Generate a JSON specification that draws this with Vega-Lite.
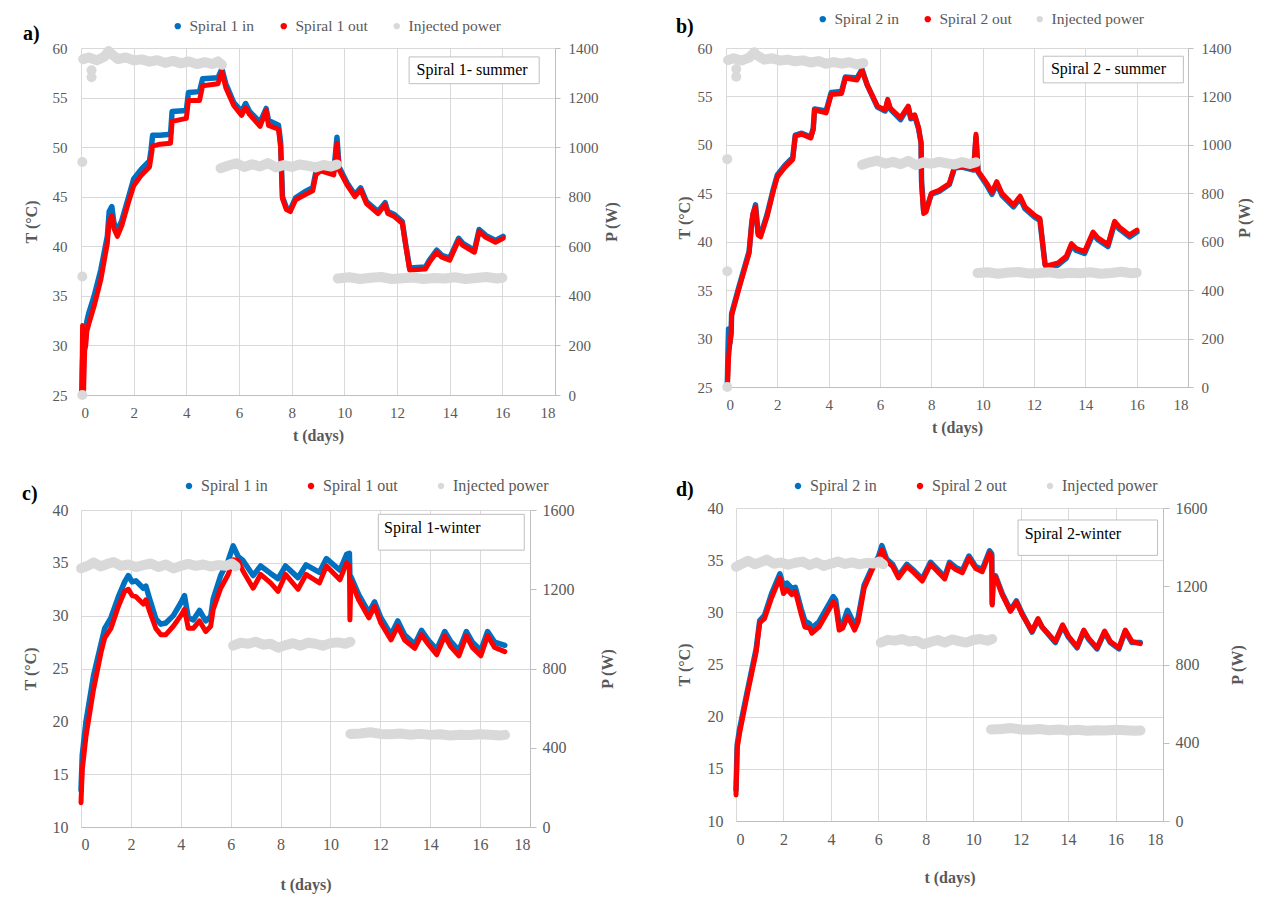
{
  "$schema": "https://vega.github.io/schema/vega-lite/v6.json",
  "background": "white",
  "padding": {"left": 22, "top": 11, "right": 5, "bottom": 5},
  "columns": 2,
  "align": "none",
  "spacing": {"row": 35, "column": 57},
  "resolve": {"scale": {"color": "independent"}, "legend": {"color": "independent"}},
  "datasets": {
    "a": [
      {"t":0.03,"in":25.0,"out":25.0},{"t":0.06,"in":28.5,"out":32.0},{"t":0.1,"in":30.5,"out":25.5},{"t":0.14,"in":29.8,"out":29.5},
      {"t":0.18,"in":30.8,"out":30.0},{"t":0.22,"in":32.4,"out":31.4},{"t":0.3,"in":33.3,"out":32.2},{"t":0.5,"in":35.0,"out":34.0},
      {"t":0.75,"in":37.6,"out":36.6},{"t":1.0,"in":41.0,"out":40.3},{"t":1.07,"in":43.5,"out":42.5},{"t":1.17,"in":44.0,"out":43.1},
      {"t":1.25,"in":42.4,"out":41.8},{"t":1.38,"in":41.5,"out":41.0},{"t":1.55,"in":42.6,"out":42.1},{"t":1.8,"in":44.9,"out":44.4},
      {"t":2.0,"in":46.8,"out":46.1},{"t":2.3,"in":47.8,"out":47.2},{"t":2.6,"in":48.6,"out":48.0},{"t":2.66,"in":49.7,"out":49.0},
      {"t":2.72,"in":51.2,"out":50.1},{"t":3.0,"in":51.2,"out":50.3},{"t":3.4,"in":51.3,"out":50.4},{"t":3.46,"in":53.6,"out":52.6},
      {"t":4.0,"in":53.7,"out":52.9},{"t":4.08,"in":55.5,"out":54.7},{"t":4.5,"in":55.6,"out":54.7},{"t":4.62,"in":56.9,"out":56.2},
      {"t":5.2,"in":57.0,"out":56.4},{"t":5.35,"in":57.9,"out":57.6},{"t":5.5,"in":56.4,"out":56.0},{"t":5.8,"in":54.5,"out":54.2},
      {"t":6.1,"in":53.6,"out":53.2},{"t":6.25,"in":54.4,"out":54.0},{"t":6.4,"in":53.6,"out":53.3},{"t":6.8,"in":52.5,"out":52.1},
      {"t":7.03,"in":53.9,"out":53.7},{"t":7.12,"in":52.7,"out":52.2},{"t":7.5,"in":52.2,"out":51.8},{"t":7.58,"in":50.5,"out":50.0},
      {"t":7.65,"in":45.0,"out":44.8},{"t":7.8,"in":43.9,"out":43.7},{"t":7.95,"in":43.7,"out":43.5},{"t":8.15,"in":44.9,"out":44.7},
      {"t":8.5,"in":45.5,"out":45.2},{"t":8.8,"in":45.9,"out":45.6},{"t":8.92,"in":47.5,"out":47.2},{"t":9.1,"in":47.8,"out":47.6},
      {"t":9.6,"in":47.5,"out":47.2},{"t":9.72,"in":51.0,"out":50.4},{"t":9.8,"in":48.0,"out":47.7},{"t":10.1,"in":46.4,"out":46.2},
      {"t":10.4,"in":45.2,"out":45.0},{"t":10.62,"in":45.9,"out":45.7},{"t":10.84,"in":44.5,"out":44.3},{"t":11.28,"in":43.5,"out":43.3},
      {"t":11.55,"in":44.4,"out":44.2},{"t":11.65,"in":43.5,"out":43.3},{"t":11.9,"in":43.2,"out":43.0},{"t":12.2,"in":42.5,"out":42.3},
      {"t":12.33,"in":40.2,"out":40.1},{"t":12.48,"in":37.8,"out":37.6},{"t":13.08,"in":37.9,"out":37.7},{"t":13.23,"in":38.6,"out":38.4},
      {"t":13.51,"in":39.6,"out":39.4},{"t":13.7,"in":39.1,"out":38.9},{"t":14.0,"in":38.8,"out":38.6},{"t":14.34,"in":40.8,"out":40.6},
      {"t":14.5,"in":40.3,"out":40.1},{"t":14.94,"in":39.6,"out":39.4},{"t":15.12,"in":41.7,"out":41.5},{"t":15.37,"in":41.1,"out":40.9},
      {"t":15.74,"in":40.6,"out":40.4},{"t":16.03,"in":41.0,"out":40.8}
    ],
    "pa": [
      {"t":0.05,"p":0,"g":"o1"},{"t":0.05,"p":478,"g":"o2"},{"t":0.05,"p":940,"g":"o3"},{"t":0.4,"p":1310,"g":"o4"},{"t":0.4,"p":1282,"g":"o5"},
      {"t":0.08,"p":1355,"g":"top"},{"t":0.3,"p":1362,"g":"top"},{"t":0.6,"p":1350,"g":"top"},{"t":0.9,"p":1366,"g":"top"},{"t":1.05,"p":1388,"g":"top"},
      {"t":1.2,"p":1372,"g":"top"},{"t":1.4,"p":1355,"g":"top"},{"t":1.7,"p":1362,"g":"top"},{"t":2.0,"p":1350,"g":"top"},{"t":2.3,"p":1354,"g":"top"},
      {"t":2.6,"p":1345,"g":"top"},{"t":2.9,"p":1351,"g":"top"},{"t":3.2,"p":1340,"g":"top"},{"t":3.5,"p":1348,"g":"top"},{"t":3.8,"p":1338,"g":"top"},
      {"t":4.1,"p":1346,"g":"top"},{"t":4.4,"p":1335,"g":"top"},{"t":4.7,"p":1343,"g":"top"},{"t":5.0,"p":1335,"g":"top"},{"t":5.2,"p":1346,"g":"top"},{"t":5.35,"p":1332,"g":"top"},
      {"t":5.3,"p":915,"g":"mid"},{"t":5.6,"p":926,"g":"mid"},{"t":5.9,"p":935,"g":"mid"},{"t":6.2,"p":920,"g":"mid"},{"t":6.5,"p":931,"g":"mid"},
      {"t":6.8,"p":922,"g":"mid"},{"t":7.1,"p":936,"g":"mid"},{"t":7.4,"p":918,"g":"mid"},{"t":7.7,"p":928,"g":"mid"},{"t":8.0,"p":920,"g":"mid"},
      {"t":8.3,"p":930,"g":"mid"},{"t":8.6,"p":925,"g":"mid"},{"t":8.9,"p":918,"g":"mid"},{"t":9.2,"p":928,"g":"mid"},{"t":9.5,"p":922,"g":"mid"},{"t":9.72,"p":930,"g":"mid"},
      {"t":9.75,"p":470,"g":"low"},{"t":10.2,"p":475,"g":"low"},{"t":10.6,"p":468,"g":"low"},{"t":11.0,"p":473,"g":"low"},{"t":11.4,"p":476,"g":"low"},
      {"t":11.8,"p":468,"g":"low"},{"t":12.2,"p":471,"g":"low"},{"t":12.6,"p":474,"g":"low"},{"t":13.0,"p":468,"g":"low"},{"t":13.4,"p":472,"g":"low"},
      {"t":13.8,"p":470,"g":"low"},{"t":14.2,"p":475,"g":"low"},{"t":14.6,"p":468,"g":"low"},{"t":15.0,"p":472,"g":"low"},{"t":15.4,"p":476,"g":"low"},
      {"t":15.8,"p":470,"g":"low"},{"t":16.0,"p":473,"g":"low"}
    ],
    "ba": [{"x1":12.46,"x2":17.4,"y1":59.1,"y2":56.4,"tx":12.74,"ty":57.75,"label":"Spiral 1- summer"}],
    "b": [
      {"t":0.05,"in":25.0,"out":25.0},{"t":0.08,"in":29.0,"out":26.5},{"t":0.1,"in":31.0,"out":28.0},{"t":0.15,"in":29.5,"out":29.5},
      {"t":0.2,"in":30.6,"out":30.5},{"t":0.22,"in":32.6,"out":32.4},{"t":0.5,"in":35.3,"out":35.1},{"t":0.9,"in":39.0,"out":38.8},
      {"t":1.0,"in":41.8,"out":41.9},{"t":1.05,"in":42.8,"out":42.9},{"t":1.15,"in":43.8,"out":43.6},{"t":1.25,"in":40.9,"out":40.7},
      {"t":1.35,"in":40.7,"out":40.5},{"t":1.6,"in":42.8,"out":42.6},{"t":1.85,"in":45.5,"out":45.3},{"t":2.0,"in":46.9,"out":46.7},
      {"t":2.3,"in":47.9,"out":47.7},{"t":2.6,"in":48.7,"out":48.5},{"t":2.7,"in":51.0,"out":50.9},{"t":2.95,"in":51.2,"out":51.1},
      {"t":3.3,"in":50.8,"out":50.7},{"t":3.4,"in":51.7,"out":51.6},{"t":3.45,"in":53.7,"out":53.6},{"t":3.9,"in":53.5,"out":53.3},
      {"t":4.1,"in":55.4,"out":55.2},{"t":4.5,"in":55.5,"out":55.3},{"t":4.65,"in":57.0,"out":56.9},{"t":5.1,"in":56.9,"out":56.7},
      {"t":5.3,"in":57.8,"out":57.7},{"t":5.5,"in":56.2,"out":56.2},{"t":5.9,"in":53.9,"out":54.0},{"t":6.2,"in":53.5,"out":53.6},
      {"t":6.3,"in":54.5,"out":54.7},{"t":6.4,"in":53.7,"out":53.8},{"t":6.8,"in":52.6,"out":52.8},{"t":7.1,"in":53.9,"out":54.0},
      {"t":7.2,"in":52.7,"out":52.8},{"t":7.35,"in":53.0,"out":53.1},{"t":7.5,"in":51.7,"out":51.8},{"t":7.6,"in":50.2,"out":50.2},
      {"t":7.62,"in":46.2,"out":46.0},{"t":7.7,"in":43.2,"out":42.9},{"t":7.8,"in":43.3,"out":43.1},{"t":8.0,"in":44.9,"out":45.0},
      {"t":8.3,"in":45.2,"out":45.3},{"t":8.7,"in":45.9,"out":46.0},{"t":8.9,"in":47.6,"out":47.7},{"t":9.2,"in":47.7,"out":47.8},
      {"t":9.65,"in":47.4,"out":47.5},{"t":9.74,"in":50.8,"out":51.1},{"t":9.82,"in":47.2,"out":47.3},{"t":10.17,"in":45.8,"out":46.0},
      {"t":10.36,"in":44.9,"out":45.1},{"t":10.55,"in":46.0,"out":46.2},{"t":10.75,"in":44.8,"out":45.0},{"t":11.2,"in":43.6,"out":43.8},
      {"t":11.46,"in":44.5,"out":44.7},{"t":11.65,"in":43.4,"out":43.6},{"t":12.04,"in":42.5,"out":42.7},{"t":12.23,"in":42.2,"out":42.4},
      {"t":12.43,"in":37.7,"out":37.6},{"t":12.49,"in":37.3,"out":37.5},{"t":12.94,"in":37.6,"out":37.8},{"t":13.26,"in":38.3,"out":38.5},
      {"t":13.46,"in":39.6,"out":39.8},{"t":13.65,"in":39.1,"out":39.3},{"t":13.97,"in":38.8,"out":39.0},{"t":14.3,"in":40.8,"out":41.0},
      {"t":14.49,"in":40.2,"out":40.4},{"t":14.88,"in":39.5,"out":39.7},{"t":15.14,"in":41.9,"out":42.1},{"t":15.33,"in":41.3,"out":41.5},
      {"t":15.72,"in":40.5,"out":40.7},{"t":16.01,"in":41.0,"out":41.2}
    ],
    "pb": [
      {"t":0.05,"p":0,"g":"o1"},{"t":0.05,"p":478,"g":"o2"},{"t":0.05,"p":941,"g":"o3"},{"t":0.4,"p":1313,"g":"o4"},{"t":0.4,"p":1281,"g":"o5"},
      {"t":0.08,"p":1350,"g":"top"},{"t":0.3,"p":1358,"g":"top"},{"t":0.6,"p":1348,"g":"top"},{"t":0.9,"p":1360,"g":"top"},{"t":1.1,"p":1382,"g":"top"},
      {"t":1.2,"p":1370,"g":"top"},{"t":1.5,"p":1352,"g":"top"},{"t":1.8,"p":1358,"g":"top"},{"t":2.1,"p":1348,"g":"top"},{"t":2.4,"p":1352,"g":"top"},
      {"t":2.7,"p":1345,"g":"top"},{"t":3.0,"p":1349,"g":"top"},{"t":3.3,"p":1340,"g":"top"},{"t":3.6,"p":1346,"g":"top"},{"t":3.9,"p":1335,"g":"top"},
      {"t":4.2,"p":1342,"g":"top"},{"t":4.5,"p":1335,"g":"top"},{"t":4.8,"p":1341,"g":"top"},{"t":5.1,"p":1332,"g":"top"},{"t":5.35,"p":1338,"g":"top"},
      {"t":5.3,"p":918,"g":"mid"},{"t":5.6,"p":928,"g":"mid"},{"t":5.9,"p":935,"g":"mid"},{"t":6.2,"p":922,"g":"mid"},{"t":6.5,"p":930,"g":"mid"},
      {"t":6.8,"p":920,"g":"mid"},{"t":7.1,"p":934,"g":"mid"},{"t":7.4,"p":916,"g":"mid"},{"t":7.7,"p":928,"g":"mid"},{"t":8.0,"p":922,"g":"mid"},
      {"t":8.3,"p":930,"g":"mid"},{"t":8.6,"p":924,"g":"mid"},{"t":8.9,"p":919,"g":"mid"},{"t":9.2,"p":929,"g":"mid"},{"t":9.5,"p":921,"g":"mid"},{"t":9.74,"p":928,"g":"mid"},
      {"t":9.8,"p":471,"g":"low"},{"t":10.2,"p":474,"g":"low"},{"t":10.6,"p":468,"g":"low"},{"t":11.0,"p":473,"g":"low"},{"t":11.4,"p":475,"g":"low"},
      {"t":11.8,"p":469,"g":"low"},{"t":12.2,"p":471,"g":"low"},{"t":12.6,"p":474,"g":"low"},{"t":13.0,"p":468,"g":"low"},{"t":13.4,"p":472,"g":"low"},
      {"t":13.8,"p":470,"g":"low"},{"t":14.2,"p":474,"g":"low"},{"t":14.6,"p":468,"g":"low"},{"t":15.0,"p":471,"g":"low"},{"t":15.4,"p":476,"g":"low"},
      {"t":15.8,"p":470,"g":"low"},{"t":16.0,"p":472,"g":"low"}
    ],
    "bb": [{"x1":12.36,"x2":17.82,"y1":59.15,"y2":56.4,"tx":12.66,"ty":57.8,"label":"Spiral 2 - summer"}],
    "c": [
      {"t":0.0,"in":13.5,"out":12.3},{"t":0.05,"in":16.8,"out":15.4},{"t":0.2,"in":20.0,"out":18.6},{"t":0.5,"in":24.3,"out":23.0},
      {"t":0.8,"in":27.3,"out":26.5},{"t":0.95,"in":28.8,"out":27.9},{"t":1.2,"in":29.8,"out":28.8},{"t":1.5,"in":31.8,"out":30.9},
      {"t":1.75,"in":33.2,"out":32.3},{"t":1.9,"in":33.8,"out":32.5},{"t":2.05,"in":33.2,"out":31.9},{"t":2.2,"in":33.3,"out":31.8},
      {"t":2.5,"in":32.6,"out":31.1},{"t":2.6,"in":32.8,"out":31.5},{"t":2.75,"in":31.6,"out":30.4},{"t":3.0,"in":29.7,"out":28.8},
      {"t":3.2,"in":29.2,"out":28.2},{"t":3.4,"in":29.3,"out":28.2},{"t":3.7,"in":30.0,"out":29.0},{"t":4.0,"in":31.2,"out":30.0},
      {"t":4.15,"in":31.9,"out":30.6},{"t":4.3,"in":29.8,"out":28.8},{"t":4.5,"in":29.6,"out":28.8},{"t":4.75,"in":30.5,"out":29.5},
      {"t":5.0,"in":29.5,"out":28.5},{"t":5.2,"in":29.9,"out":29.0},{"t":5.3,"in":31.6,"out":30.6},{"t":5.6,"in":33.8,"out":32.6},
      {"t":5.9,"in":35.2,"out":33.9},{"t":6.1,"in":36.6,"out":35.3},{"t":6.3,"in":35.6,"out":35.2},{"t":6.5,"in":35.2,"out":34.2},
      {"t":6.9,"in":33.8,"out":32.6},{"t":7.2,"in":34.7,"out":33.9},{"t":7.6,"in":34.0,"out":33.1},{"t":7.9,"in":33.5,"out":32.3},
      {"t":8.2,"in":34.7,"out":33.9},{"t":8.7,"in":33.6,"out":32.5},{"t":9.02,"in":34.8,"out":33.9},{"t":9.56,"in":34.1,"out":33.1},
      {"t":9.84,"in":35.4,"out":34.7},{"t":10.38,"in":34.3,"out":33.4},{"t":10.65,"in":35.8,"out":35.0},{"t":10.76,"in":35.9,"out":34.7},
      {"t":10.78,"in":33.7,"out":29.6},{"t":10.82,"in":33.7,"out":33.3},{"t":11.13,"in":32.0,"out":31.5},{"t":11.54,"in":30.3,"out":29.8},
      {"t":11.77,"in":31.3,"out":30.9},{"t":12.02,"in":29.8,"out":29.3},{"t":12.43,"in":28.2,"out":27.7},{"t":12.7,"in":29.5,"out":29.0},
      {"t":12.97,"in":28.2,"out":27.7},{"t":13.38,"in":27.3,"out":26.9},{"t":13.65,"in":28.6,"out":28.2},{"t":13.92,"in":27.7,"out":27.3},
      {"t":14.26,"in":26.8,"out":26.3},{"t":14.58,"in":28.5,"out":28.1},{"t":14.81,"in":27.6,"out":27.1},{"t":15.15,"in":26.7,"out":26.2},
      {"t":15.45,"in":28.5,"out":28.1},{"t":15.69,"in":27.5,"out":27.0},{"t":16.03,"in":26.7,"out":26.2},{"t":16.3,"in":28.5,"out":28.1},
      {"t":16.58,"in":27.5,"out":27.0},{"t":16.99,"in":27.2,"out":26.6}
    ],
    "pc": [
      {"t":0.0,"p":1305,"g":"top"},{"t":0.3,"p":1320,"g":"top"},{"t":0.5,"p":1335,"g":"top"},{"t":0.8,"p":1315,"g":"top"},{"t":1.1,"p":1330,"g":"top"},
      {"t":1.3,"p":1338,"g":"top"},{"t":1.6,"p":1318,"g":"top"},{"t":1.9,"p":1325,"g":"top"},{"t":2.2,"p":1312,"g":"top"},{"t":2.5,"p":1322,"g":"top"},
      {"t":2.8,"p":1330,"g":"top"},{"t":3.1,"p":1312,"g":"top"},{"t":3.4,"p":1325,"g":"top"},{"t":3.7,"p":1305,"g":"top"},{"t":4.0,"p":1318,"g":"top"},
      {"t":4.3,"p":1328,"g":"top"},{"t":4.6,"p":1318,"g":"top"},{"t":4.9,"p":1325,"g":"top"},{"t":5.2,"p":1315,"g":"top"},{"t":5.5,"p":1322,"g":"top"},
      {"t":5.8,"p":1318,"g":"top"},{"t":6.05,"p":1330,"g":"top"},{"t":6.2,"p":1315,"g":"top"},
      {"t":6.1,"p":915,"g":"mid"},{"t":6.4,"p":930,"g":"mid"},{"t":6.7,"p":925,"g":"mid"},{"t":7.0,"p":935,"g":"mid"},{"t":7.3,"p":920,"g":"mid"},
      {"t":7.6,"p":925,"g":"mid"},{"t":7.9,"p":905,"g":"mid"},{"t":8.2,"p":918,"g":"mid"},{"t":8.5,"p":928,"g":"mid"},{"t":8.8,"p":915,"g":"mid"},
      {"t":9.1,"p":930,"g":"mid"},{"t":9.4,"p":925,"g":"mid"},{"t":9.7,"p":915,"g":"mid"},{"t":10.0,"p":928,"g":"mid"},{"t":10.3,"p":932,"g":"mid"},
      {"t":10.6,"p":925,"g":"mid"},{"t":10.8,"p":935,"g":"mid"},
      {"t":10.8,"p":470,"g":"low"},{"t":11.2,"p":472,"g":"low"},{"t":11.6,"p":478,"g":"low"},{"t":12.0,"p":470,"g":"low"},{"t":12.4,"p":468,"g":"low"},
      {"t":12.8,"p":472,"g":"low"},{"t":13.2,"p":466,"g":"low"},{"t":13.6,"p":470,"g":"low"},{"t":14.0,"p":465,"g":"low"},{"t":14.4,"p":468,"g":"low"},
      {"t":14.8,"p":462,"g":"low"},{"t":15.2,"p":466,"g":"low"},{"t":15.6,"p":464,"g":"low"},{"t":16.0,"p":468,"g":"low"},{"t":16.4,"p":466,"g":"low"},
      {"t":16.8,"p":462,"g":"low"},{"t":17.0,"p":465,"g":"low"}
    ],
    "bc": [{"x1":11.92,"x2":17.77,"y1":39.59,"y2":36.2,"tx":12.15,"ty":38.33,"label":"Spiral 1-winter"}],
    "d": [
      {"t":0.0,"in":13.0,"out":12.5},{"t":0.05,"in":17.3,"out":17.0},{"t":0.15,"in":18.8,"out":18.4},{"t":0.5,"in":22.7,"out":22.4},
      {"t":0.85,"in":26.5,"out":26.2},{"t":1.0,"in":29.2,"out":29.0},{"t":1.2,"in":29.7,"out":29.4},{"t":1.5,"in":31.8,"out":31.4},
      {"t":1.85,"in":33.7,"out":33.3},{"t":2.0,"in":32.5,"out":31.8},{"t":2.15,"in":32.8,"out":32.2},{"t":2.35,"in":32.3,"out":31.7},
      {"t":2.5,"in":32.4,"out":32.0},{"t":2.75,"in":30.3,"out":29.8},{"t":2.9,"in":29.2,"out":28.6},{"t":3.1,"in":28.9,"out":28.5},
      {"t":3.2,"in":28.5,"out":28.0},{"t":3.5,"in":29.1,"out":28.6},{"t":3.8,"in":30.3,"out":29.8},{"t":4.1,"in":31.5,"out":31.0},
      {"t":4.2,"in":31.2,"out":30.7},{"t":4.35,"in":28.8,"out":28.3},{"t":4.5,"in":28.9,"out":28.5},{"t":4.7,"in":30.2,"out":29.6},
      {"t":4.85,"in":29.5,"out":29.0},{"t":5.0,"in":28.7,"out":28.3},{"t":5.15,"in":29.5,"out":29.1},{"t":5.4,"in":32.6,"out":32.3},
      {"t":5.8,"in":34.6,"out":34.4},{"t":6.0,"in":35.3,"out":35.0},{"t":6.15,"in":36.4,"out":36.0},{"t":6.35,"in":35.1,"out":34.9},
      {"t":6.6,"in":34.6,"out":34.4},{"t":6.85,"in":33.5,"out":33.3},{"t":7.2,"in":34.6,"out":34.4},{"t":7.5,"in":34.0,"out":33.8},
      {"t":7.85,"in":33.2,"out":33.0},{"t":8.2,"in":34.8,"out":34.6},{"t":8.8,"in":33.4,"out":33.2},{"t":9.0,"in":34.8,"out":34.6},
      {"t":9.26,"in":34.3,"out":34.1},{"t":9.54,"in":34.0,"out":33.8},{"t":9.82,"in":35.4,"out":35.2},{"t":10.1,"in":34.4,"out":34.2},
      {"t":10.38,"in":34.1,"out":33.9},{"t":10.69,"in":35.9,"out":35.7},{"t":10.78,"in":35.6,"out":35.4},{"t":10.8,"in":30.9,"out":30.7},
      {"t":10.85,"in":33.5,"out":33.4},{"t":10.94,"in":33.5,"out":33.4},{"t":11.22,"in":31.8,"out":31.7},{"t":11.57,"in":30.2,"out":30.1},
      {"t":11.82,"in":31.1,"out":31.0},{"t":12.06,"in":29.9,"out":29.8},{"t":12.48,"in":28.1,"out":28.2},{"t":12.73,"in":29.3,"out":29.4},
      {"t":12.9,"in":28.6,"out":28.6},{"t":13.46,"in":27.1,"out":27.2},{"t":13.77,"in":28.7,"out":28.8},{"t":14.02,"in":27.6,"out":27.7},
      {"t":14.38,"in":26.6,"out":26.7},{"t":14.66,"in":28.2,"out":28.3},{"t":14.87,"in":27.4,"out":27.5},{"t":15.22,"in":26.5,"out":26.6},
      {"t":15.54,"in":28.1,"out":28.2},{"t":15.78,"in":27.1,"out":27.2},{"t":16.14,"in":26.5,"out":26.6},{"t":16.41,"in":28.2,"out":28.3},
      {"t":16.69,"in":27.1,"out":27.2},{"t":17.04,"in":27.1,"out":27.0}
    ],
    "pd": [
      {"t":0.0,"p":1300,"g":"top"},{"t":0.3,"p":1318,"g":"top"},{"t":0.5,"p":1330,"g":"top"},{"t":0.8,"p":1312,"g":"top"},{"t":1.1,"p":1326,"g":"top"},
      {"t":1.3,"p":1336,"g":"top"},{"t":1.6,"p":1315,"g":"top"},{"t":1.9,"p":1322,"g":"top"},{"t":2.2,"p":1310,"g":"top"},{"t":2.5,"p":1320,"g":"top"},
      {"t":2.8,"p":1326,"g":"top"},{"t":3.1,"p":1308,"g":"top"},{"t":3.4,"p":1322,"g":"top"},{"t":3.7,"p":1304,"g":"top"},{"t":4.0,"p":1316,"g":"top"},
      {"t":4.3,"p":1326,"g":"top"},{"t":4.6,"p":1314,"g":"top"},{"t":4.9,"p":1322,"g":"top"},{"t":5.2,"p":1312,"g":"top"},{"t":5.5,"p":1320,"g":"top"},
      {"t":5.8,"p":1316,"g":"top"},{"t":6.05,"p":1326,"g":"top"},{"t":6.2,"p":1312,"g":"top"},
      {"t":6.1,"p":912,"g":"mid"},{"t":6.4,"p":926,"g":"mid"},{"t":6.7,"p":922,"g":"mid"},{"t":7.0,"p":930,"g":"mid"},{"t":7.3,"p":918,"g":"mid"},
      {"t":7.6,"p":922,"g":"mid"},{"t":7.9,"p":904,"g":"mid"},{"t":8.2,"p":915,"g":"mid"},{"t":8.5,"p":925,"g":"mid"},{"t":8.8,"p":912,"g":"mid"},
      {"t":9.1,"p":928,"g":"mid"},{"t":9.4,"p":920,"g":"mid"},{"t":9.7,"p":912,"g":"mid"},{"t":10.0,"p":925,"g":"mid"},{"t":10.3,"p":930,"g":"mid"},
      {"t":10.6,"p":922,"g":"mid"},{"t":10.8,"p":930,"g":"mid"},
      {"t":10.75,"p":468,"g":"low"},{"t":11.2,"p":470,"g":"low"},{"t":11.6,"p":475,"g":"low"},{"t":12.0,"p":468,"g":"low"},{"t":12.4,"p":466,"g":"low"},
      {"t":12.8,"p":470,"g":"low"},{"t":13.2,"p":464,"g":"low"},{"t":13.6,"p":468,"g":"low"},{"t":14.0,"p":463,"g":"low"},{"t":14.4,"p":466,"g":"low"},
      {"t":14.8,"p":461,"g":"low"},{"t":15.2,"p":464,"g":"low"},{"t":15.6,"p":463,"g":"low"},{"t":16.0,"p":466,"g":"low"},{"t":16.4,"p":464,"g":"low"},
      {"t":16.8,"p":461,"g":"low"},{"t":17.05,"p":463,"g":"low"}
    ],
    "bd": [{"x1":11.89,"x2":17.77,"y1":38.85,"y2":35.46,"tx":12.17,"ty":37.54,"label":"Spiral 2-winter"}]
  },
  "concat": [
    {
      "width": 474, "height": 347,
      "title": {"text": "a)", "offset": -33},
      "resolve": {"scale": {"y": "independent"}},
      "layer": [
        {"layer": [
          {"data": {"name": "a"}, "mark": {"type": "line", "strokeWidth": 5.5, "strokeJoin": "round", "strokeCap": "round"},
           "encoding": {
             "x": {"field": "t", "type": "quantitative", "scale": {"domain": [0, 18], "nice": false},
                   "axis": {"title": "t (days)", "values": [0,2,4,6,8,10,12,14,16,18], "grid": true, "ticks": false, "tickSize": 0, "domain": true, "labelPadding": 10, "titlePadding": 7, "labelFontSize": 15, "titleFontSize": 16, "labelFont": "Liberation Serif"}},
             "y": {"field": "in", "type": "quantitative", "scale": {"domain": [25, 60], "nice": false},
                   "axis": {"title": "T (°C)", "values": [25,30,35,40,45,50,55,60], "grid": true, "ticks": false, "tickSize": 0, "domain": false, "labelPadding": 14, "titlePadding": 13, "labelFontSize": 15, "titleFontSize": 16, "labelFont": "Liberation Serif"}},
             "color": {"datum": "Spiral 1 in", "type": "nominal",
                       "scale": {"domain": ["Spiral 1 in", "Spiral 1 out", "Injected power"], "range": ["#0070C0", "#FF0000", "#D9D9D9"]},
                       "legend": {"orient": "none", "legendX": 82, "legendY": -37, "padding": 7, "direction": "horizontal", "title": null, "symbolType": "circle", "symbolSize": 12, "symbolStrokeWidth": 3, "labelFont": "Liberation Serif", "labelFontSize": 15.5, "columnPadding": 21, "labelOffset": 4}}
           }},
          {"data": {"name": "a"}, "mark": {"type": "line", "strokeWidth": 5, "strokeJoin": "round", "strokeCap": "round"},
           "encoding": {"x": {"field": "t", "type": "quantitative"}, "y": {"field": "out", "type": "quantitative"}, "color": {"datum": "Spiral 1 out", "type": "nominal"}}},
          {"data": {"name": "ba"}, "mark": {"type": "rect", "fill": "white", "stroke": "#bfbfbf", "strokeWidth": 1},
           "encoding": {"x": {"field": "x1", "type": "quantitative"}, "x2": {"field": "x2"}, "y": {"field": "y1", "type": "quantitative"}, "y2": {"field": "y2"}}},
          {"data": {"name": "ba"}, "mark": {"type": "text", "align": "left", "baseline": "middle", "font": "Liberation Serif", "fontSize": 16, "color": "black"},
           "encoding": {"x": {"field": "tx", "type": "quantitative"}, "y": {"field": "ty", "type": "quantitative"}, "text": {"field": "label"}}}
        ]},
        {"layer": [
          {"data": {"name": "pa"}, "mark": {"type": "line", "strokeWidth": 10, "strokeJoin": "round", "strokeCap": "round"},
           "encoding": {
             "x": {"field": "t", "type": "quantitative"},
             "y": {"field": "p", "type": "quantitative", "scale": {"domain": [0, 1400], "nice": false},
                   "axis": {"title": "P (W)", "orient": "right", "format": "d", "values": [0,200,400,600,800,1000,1200,1400], "grid": false, "ticks": true, "tickSize": 5, "domain": true, "labelPadding": 8, "titlePadding": 5, "titleAngle": 270, "titleBaseline": "top", "labelFontSize": 15, "titleFontSize": 16, "labelFont": "Liberation Serif"}},
             "color": {"datum": "Injected power", "type": "nominal"},
             "detail": {"field": "g"}
           }},
          {"data": {"name": "pa"}, "mark": {"type": "point", "filled": true, "size": 40, "opacity": 1},
           "encoding": {"x": {"field": "t", "type": "quantitative"}, "y": {"field": "p", "type": "quantitative"}, "color": {"datum": "Injected power", "type": "nominal"}}}
        ]}
      ]
    },
    {
      "width": 462, "height": 339,
      "title": {"text": "b)", "offset": -26},
      "resolve": {"scale": {"y": "independent"}},
      "layer": [
        {"layer": [
          {"data": {"name": "b"}, "mark": {"type": "line", "strokeWidth": 5.5, "strokeJoin": "round", "strokeCap": "round"},
           "encoding": {
             "x": {"field": "t", "type": "quantitative", "scale": {"domain": [0, 18], "nice": false},
                   "axis": {"title": "t (days)", "values": [0,2,4,6,8,10,12,14,16,18], "grid": true, "ticks": false, "tickSize": 0, "domain": true, "labelPadding": 10, "titlePadding": 7, "labelFontSize": 15, "titleFontSize": 16, "labelFont": "Liberation Serif"}},
             "y": {"field": "in", "type": "quantitative", "scale": {"domain": [25, 60], "nice": false},
                   "axis": {"title": "T (°C)", "values": [25,30,35,40,45,50,55,60], "grid": true, "ticks": false, "tickSize": 0, "domain": false, "labelPadding": 14, "titlePadding": 5, "labelFontSize": 15, "titleFontSize": 16, "labelFont": "Liberation Serif"}},
             "color": {"datum": "Spiral 2 in", "type": "nominal",
                       "scale": {"domain": ["Spiral 2 in", "Spiral 2 out", "Injected power"], "range": ["#0070C0", "#FF0000", "#D9D9D9"]},
                       "legend": {"orient": "none", "legendX": 89, "legendY": -37, "padding": 0, "direction": "horizontal", "title": null, "symbolType": "circle", "symbolSize": 12, "symbolStrokeWidth": 3, "labelFont": "Liberation Serif", "labelFontSize": 15.5, "columnPadding": 20, "labelOffset": 4}}
           }},
          {"data": {"name": "b"}, "mark": {"type": "line", "strokeWidth": 5, "strokeJoin": "round", "strokeCap": "round"},
           "encoding": {"x": {"field": "t", "type": "quantitative"}, "y": {"field": "out", "type": "quantitative"}, "color": {"datum": "Spiral 2 out", "type": "nominal"}}},
          {"data": {"name": "bb"}, "mark": {"type": "rect", "fill": "white", "stroke": "#bfbfbf", "strokeWidth": 1},
           "encoding": {"x": {"field": "x1", "type": "quantitative"}, "x2": {"field": "x2"}, "y": {"field": "y1", "type": "quantitative"}, "y2": {"field": "y2"}}},
          {"data": {"name": "bb"}, "mark": {"type": "text", "align": "left", "baseline": "middle", "font": "Liberation Serif", "fontSize": 16, "color": "black"},
           "encoding": {"x": {"field": "tx", "type": "quantitative"}, "y": {"field": "ty", "type": "quantitative"}, "text": {"field": "label"}}}
        ]},
        {"layer": [
          {"data": {"name": "pb"}, "mark": {"type": "line", "strokeWidth": 10, "strokeJoin": "round", "strokeCap": "round"},
           "encoding": {
             "x": {"field": "t", "type": "quantitative"},
             "y": {"field": "p", "type": "quantitative", "scale": {"domain": [0, 1400], "nice": false},
                   "axis": {"title": "P (W)", "orient": "right", "format": "d", "values": [0,200,400,600,800,1000,1200,1400], "grid": false, "ticks": true, "tickSize": 5, "domain": true, "labelPadding": 8, "titlePadding": 5, "titleAngle": 270, "titleBaseline": "top", "labelFontSize": 15, "titleFontSize": 16, "labelFont": "Liberation Serif"}},
             "color": {"datum": "Injected power", "type": "nominal"},
             "detail": {"field": "g"}
           }},
          {"data": {"name": "pb"}, "mark": {"type": "point", "filled": true, "size": 40, "opacity": 1},
           "encoding": {"x": {"field": "t", "type": "quantitative"}, "y": {"field": "p", "type": "quantitative"}, "color": {"datum": "Injected power", "type": "nominal"}}}
        ]}
      ]
    },
    {
      "width": 449, "height": 317,
      "title": {"text": "c)", "offset": -26},
      "resolve": {"scale": {"y": "independent"}},
      "layer": [
        {"layer": [
          {"data": {"name": "c"}, "mark": {"type": "line", "strokeWidth": 5.5, "strokeJoin": "round", "strokeCap": "round"},
           "encoding": {
             "x": {"field": "t", "type": "quantitative", "scale": {"domain": [0, 18], "nice": false},
                   "axis": {"title": "t (days)", "values": [0,2,4,6,8,10,12,14,16,18], "grid": true, "ticks": false, "tickSize": 0, "domain": true, "labelPadding": 9, "titlePadding": 24, "labelFontSize": 16, "titleFontSize": 16, "labelFont": "Liberation Serif"}},
             "y": {"field": "in", "type": "quantitative", "scale": {"domain": [10, 40], "nice": false},
                   "axis": {"title": "T (°C)", "values": [10,15,20,25,30,35,40], "grid": true, "ticks": false, "tickSize": 0, "domain": false, "labelPadding": 13, "titlePadding": 14, "labelFontSize": 16, "titleFontSize": 16, "labelFont": "Liberation Serif"}},
             "color": {"datum": "Spiral 1 in", "type": "nominal",
                       "scale": {"domain": ["Spiral 1 in", "Spiral 1 out", "Injected power"], "range": ["#0070C0", "#FF0000", "#D9D9D9"]},
                       "legend": {"orient": "none", "legendX": 100, "legendY": -32, "padding": 0, "direction": "horizontal", "title": null, "symbolType": "circle", "symbolSize": 12, "symbolStrokeWidth": 3, "labelFont": "Liberation Serif", "labelFontSize": 16, "columnPadding": 35, "labelOffset": 4}}
           }},
          {"data": {"name": "c"}, "mark": {"type": "line", "strokeWidth": 5, "strokeJoin": "round", "strokeCap": "round"},
           "encoding": {"x": {"field": "t", "type": "quantitative"}, "y": {"field": "out", "type": "quantitative"}, "color": {"datum": "Spiral 1 out", "type": "nominal"}}},
          {"data": {"name": "bc"}, "mark": {"type": "rect", "fill": "white", "stroke": "#bfbfbf", "strokeWidth": 1},
           "encoding": {"x": {"field": "x1", "type": "quantitative"}, "x2": {"field": "x2"}, "y": {"field": "y1", "type": "quantitative"}, "y2": {"field": "y2"}}},
          {"data": {"name": "bc"}, "mark": {"type": "text", "align": "left", "baseline": "middle", "font": "Liberation Serif", "fontSize": 16, "color": "black"},
           "encoding": {"x": {"field": "tx", "type": "quantitative"}, "y": {"field": "ty", "type": "quantitative"}, "text": {"field": "label"}}}
        ]},
        {"layer": [
          {"data": {"name": "pc"}, "mark": {"type": "line", "strokeWidth": 10, "strokeJoin": "round", "strokeCap": "round"},
           "encoding": {
             "x": {"field": "t", "type": "quantitative"},
             "y": {"field": "p", "type": "quantitative", "scale": {"domain": [0, 1600], "nice": false},
                   "axis": {"title": "P (W)", "orient": "right", "format": "d", "values": [0,200,400,600,800,1000,1200,1400,1600], "grid": false, "ticks": true, "tickSize": 6, "domain": true, "labelPadding": 6, "titlePadding": 25, "titleAngle": 270, "titleBaseline": "top", "labelFontSize": 16, "titleFontSize": 16, "labelFont": "Liberation Serif"}},
             "color": {"datum": "Injected power", "type": "nominal"},
             "detail": {"field": "g"}
           }},
          {"data": {"name": "pc"}, "mark": {"type": "point", "filled": true, "size": 40, "opacity": 1},
           "encoding": {"x": {"field": "t", "type": "quantitative"}, "y": {"field": "p", "type": "quantitative"}, "color": {"datum": "Injected power", "type": "nominal"}}}
        ]}
      ]
    },
    {
      "width": 427, "height": 313,
      "title": {"text": "d)", "offset": -22},
      "resolve": {"scale": {"y": "independent"}},
      "layer": [
        {"layer": [
          {"data": {"name": "d"}, "mark": {"type": "line", "strokeWidth": 5.5, "strokeJoin": "round", "strokeCap": "round"},
           "encoding": {
             "x": {"field": "t", "type": "quantitative", "scale": {"domain": [0, 18], "nice": false},
                   "axis": {"title": "t (days)", "values": [0,2,4,6,8,10,12,14,16,18], "grid": true, "ticks": false, "tickSize": 0, "domain": true, "labelPadding": 10, "titlePadding": 22, "labelFontSize": 16, "titleFontSize": 16, "labelFont": "Liberation Serif"}},
             "y": {"field": "in", "type": "quantitative", "scale": {"domain": [10, 40], "nice": false},
                   "axis": {"title": "T (°C)", "values": [10,15,20,25,30,35,40], "grid": true, "ticks": false, "tickSize": 0, "domain": false, "labelPadding": 13, "titlePadding": 15, "labelFontSize": 16, "titleFontSize": 16, "labelFont": "Liberation Serif"}},
             "color": {"datum": "Spiral 2 in", "type": "nominal",
                       "scale": {"domain": ["Spiral 2 in", "Spiral 2 out", "Injected power"], "range": ["#0070C0", "#FF0000", "#D9D9D9"]},
                       "legend": {"orient": "none", "legendX": 54, "legendY": -30, "padding": 0, "direction": "horizontal", "title": null, "symbolType": "circle", "symbolSize": 12, "symbolStrokeWidth": 3, "labelFont": "Liberation Serif", "labelFontSize": 16, "columnPadding": 35, "labelOffset": 4}}
           }},
          {"data": {"name": "d"}, "mark": {"type": "line", "strokeWidth": 5, "strokeJoin": "round", "strokeCap": "round"},
           "encoding": {"x": {"field": "t", "type": "quantitative"}, "y": {"field": "out", "type": "quantitative"}, "color": {"datum": "Spiral 2 out", "type": "nominal"}}},
          {"data": {"name": "bd"}, "mark": {"type": "rect", "fill": "white", "stroke": "#bfbfbf", "strokeWidth": 1},
           "encoding": {"x": {"field": "x1", "type": "quantitative"}, "x2": {"field": "x2"}, "y": {"field": "y1", "type": "quantitative"}, "y2": {"field": "y2"}}},
          {"data": {"name": "bd"}, "mark": {"type": "text", "align": "left", "baseline": "middle", "font": "Liberation Serif", "fontSize": 16, "color": "black"},
           "encoding": {"x": {"field": "tx", "type": "quantitative"}, "y": {"field": "ty", "type": "quantitative"}, "text": {"field": "label"}}}
        ]},
        {"layer": [
          {"data": {"name": "pd"}, "mark": {"type": "line", "strokeWidth": 10, "strokeJoin": "round", "strokeCap": "round"},
           "encoding": {
             "x": {"field": "t", "type": "quantitative"},
             "y": {"field": "p", "type": "quantitative", "scale": {"domain": [0, 1600], "nice": false},
                   "axis": {"title": "P (W)", "orient": "right", "format": "d", "values": [0,200,400,600,800,1000,1200,1400,1600], "grid": false, "ticks": true, "tickSize": 6, "domain": true, "labelPadding": 6, "titlePadding": 22, "titleAngle": 270, "titleBaseline": "top", "labelFontSize": 16, "titleFontSize": 16, "labelFont": "Liberation Serif"}},
             "color": {"datum": "Injected power", "type": "nominal"},
             "detail": {"field": "g"}
           }},
          {"data": {"name": "pd"}, "mark": {"type": "point", "filled": true, "size": 40, "opacity": 1},
           "encoding": {"x": {"field": "t", "type": "quantitative"}, "y": {"field": "p", "type": "quantitative"}, "color": {"datum": "Injected power", "type": "nominal"}}}
        ]}
      ]
    }
  ],
  "config": {
    "font": "Liberation Serif",
    "view": {"stroke": null},
    "axis": {"labelColor": "#595959", "titleColor": "#595959", "titleFontWeight": "bold", "gridColor": "#d9d9d9", "gridWidth": 1, "domainColor": "#bfbfbf", "tickColor": "#bfbfbf", "labelFont": "Liberation Serif", "titleFont": "Liberation Serif"},
    "legend": {"labelFont": "Liberation Serif", "labelColor": "#595959"},
    "title": {"font": "Liberation Serif", "fontSize": 20, "fontWeight": "bold", "color": "black", "anchor": "start", "frame": "bounds"}
  }
}
